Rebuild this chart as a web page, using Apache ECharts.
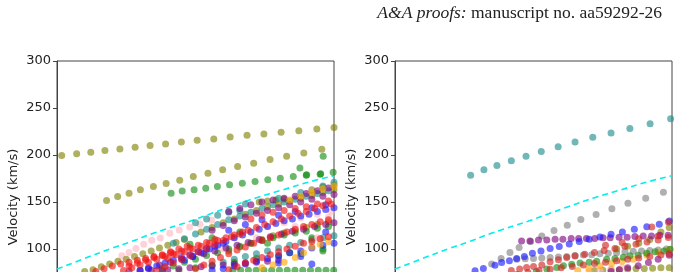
<!DOCTYPE html>
<html>
<head>
<meta charset="utf-8">
<title>Velocity</title>
<script src="https://cdn.jsdelivr.net/npm/echarts@6/dist/echarts.min.js"></script>
<style>
  html, body { margin: 0; padding: 0; background: #fff; }
  #chart { width: 687px; height: 272px; }
</style>
</head>
<body>
<div id="chart"></div>
<script>
// x is a position along each panel (0..100), y is velocity in km/s

// dashed cyan curve, same in both panels
var dashX = [0, 10, 20, 26, 35, 48, 55, 62.5, 72, 81.6, 90, 100];
var dashY = [78.6, 90, 101, 107, 117, 129.5, 137, 145, 154.5, 163, 170.5, 178];

var yTicks = [50, 100, 150, 200, 250, 300];

// ---- left panel tracks ----
var L_oliveTop = [[1.7,199.4],[7.1,201.2],[12.2,202.9],[17.3,204.7],[22.7,206.5],[28.2,208.2],[33.6,210],[39.2,211.8],[44.9,213.9],[50.6,215.6],[56.6,217.1],[62.5,219.2],[68.6,220.9],[74.7,222.4],[80.9,224.1],[87.3,225.9],[93.8,227.7],[100,229.3]];
var L_oliveMid = [[17.9,151.7],[21.9,155.9],[26,159.4],[30.1,163],[34.8,166.5],[39.4,169.7],[44.3,173.2],[49.2,177.1],[54.5,180.6],[59.8,184.2],[65.2,187.7],[71,191.2],[76.9,195.1],[82.9,198.6],[89.1,202.2],[95.6,206]];
var L_greenMid = [[41.2,159.4],[45.2,161.6],[49.5,163],[53.7,164.7],[57.9,166.5],[62.3,168.3],[66.9,170],[71.5,171.8],[76.1,173.6],[80.6,175.3],[85.3,177.1],[90.1,178.9],[95.2,180],[99.7,181.7]];
var L_greenExtra = [[87.7,186.3],[90,178.5],[95,179.5],[96.1,198.6]];
var L_pinkTop = [[23.4,92.7],[26,96.3],[28.5,100.5],[31.3,105.1],[34.2,109.3],[37.3,111.8],[40.7,116.7],[44.1,120.2],[47.9,123.4],[51.6,126.3],[55.8,130.5]];
var L_greenBottom = [[63.5,77.5],[66.3,77.5],[69.1,77.5],[71.9,77.5],[74.7,77.5],[77.5,77.5],[80.3,77.5],[83.1,77.5],[85.9,77.5],[88.7,77.5],[91.5,77.5],[94.3,77.5],[97.1,77.5],[99.9,77.5]];
var L_red1 = [[14,76],[17,79],[20,82],[23,84],[26,86],[29,88],[32,90],[35,92],[38,94],[41,96]];
var L_red2 = [[24,77],[27,80],[30,83],[33,86],[36,89],[39,92],[42,95],[45,98],[48,101],[51,104],[54,107],[57,110]];
var L_red3 = [[36,77],[39,81],[42,85],[45,89],[48,93],[51,97],[54,101],[57,105],[60,109],[63,113],[66,116],[69,120],[72,123],[75,126],[78,129],[81,132],[84,135],[87,138],[90,140],[93,143],[96,146],[99,148]];
var L_red4 = [[50,79],[53,83],[56,87],[59,91],[62,95],[65,99],[68,102],[71,106],[74,109],[77,112],[80,115],[83,118],[86,121],[89,124],[92,126],[95,129],[98,131]];
var L_red5 = [[62,78],[65,81],[68,85],[71,88],[74,91],[77,94],[80,97],[83,100],[86,103],[89,106],[92,108],[95,111],[98,113]];
var L_red6 = [[70,132],[74,136],[78,139],[82,141],[86,143],[90,145],[94,148],[98,151]];
var L_red7 = [[26,82],[29,85],[32,88],[35,91],[38,93],[41,97],[44,100],[47,103]];
var L_red8 = [[40,90],[43,94],[46,97],[49,100],[52,103],[55,106],[58,109],[61,112],[64,115],[67,118]];
var L_blue1 = [[30,77],[33,79],[36,82],[39,85],[42,88],[45,91],[48,94],[51,97],[54,100],[57,103],[60,106]];
var L_blue2 = [[46,88],[49,92],[52,96],[55,100],[58,104],[61,108],[64,112],[67,115],[70,118],[73,121],[76,124],[79,127],[82,130],[85,132],[88,135],[91,137],[94,140],[97,142],[100,144]];
var L_blue3 = [[56,77],[60,79],[64,82],[68,84],[72,87],[76,90],[80,93],[84,96],[88,98],[92,101],[96,104],[100,106]];
var L_blue4 = [[80,85],[88,92],[92,84],[97,118]];
var L_blue5 = [[62,120],[68,126],[74,131],[80,136],[86,140],[92,144],[97,147]];
var L_purple1 = [[33,80],[37,83],[41,86],[45,89],[49,92],[53,95],[57,98],[61,101],[65,104],[69,107],[73,110],[77,113],[81,116],[85,119],[89,121],[93,124],[97,126],[100,128]];
var L_purple2 = [[56,120],[60,125],[64,130],[68,134],[72,138],[76,141],[80,144],[84,147],[88,150],[92,153],[96,156],[100,158]];
var L_purple3 = [[40,78],[44,79],[48,80],[52,81],[56,82],[60,83],[64,84],[68,85],[72,86],[76,87],[80,88]];
var L_purple4 = [[62,140],[66,143],[70,147],[74,150],[78,152],[82,154],[86,156],[90,159],[94,162],[98,165]];
var L_purple5 = [[26,76],[30,77],[34,77.5],[38,76.5]];
var L_teal1 = [[42,106],[46,111],[50,116],[54,121],[58,126],[62,131],[66,135],[70,139],[74,143],[78,147],[82,150],[86,153],[90,156],[94,159],[98,162]];
var L_teal2 = [[60,86],[64,89],[68,92],[72,95],[76,98],[80,101],[84,104],[88,107],[92,110],[96,112],[100,114]];
var L_teal3 = [[68,148],[80,154],[88,160],[96,167],[100,171]];
var L_teal4 = [[50,128],[54,132],[58,136],[62,139],[66,141]];
var L_olive1 = [[10,76],[13,78],[16,81],[19,84],[22,87],[25,89],[28,92],[31,95],[34,98],[37,101],[40,104],[43,107],[46,110]];
var L_olive2 = [[52,118],[56,123],[60,128],[64,132],[68,137],[72,141],[76,145],[80,148],[84,151],[88,154],[92,157],[96,160],[100,163]];
var L_olive3 = [[62,98],[66,102],[70,106],[74,110],[78,114],[82,117],[86,120],[90,123],[94,126],[98,129]];
var L_olive4 = [[73,150],[76,151],[79,152],[82,153],[92,163],[96,166],[100,168]];
var L_green1 = [[38,79],[42,82],[46,86],[50,89],[54,93],[58,96],[62,100],[66,103],[70,106],[74,109],[78,112],[82,115],[86,117],[90,119],[94,122],[98,124]];
var L_green2 = [[48,105],[56,112],[66,118],[76,106],[84,96],[92,112],[96,100]];
var L_green3 = [[44,77],[50,80],[56,83],[64,86],[72,90],[80,92],[88,95],[96,98]];
var L_orange1 = [[74,80],[78,83],[82,86],[86,91],[89,96],[92,102],[95,105],[98,108]];
var L_orange2 = [[84,152],[88,156],[92,160],[96,164],[100,167]];
var L_pink2 = [[64,112],[70,118],[76,124],[82,128],[88,133],[94,137],[99,140]];
var L_pink3 = [[60,100],[72,112],[86,124],[94,112],[98,134]];

// ---- right panel tracks ----
var R_tealTop = [[27.3,178.5],[32.1,184.2],[36.8,188.8],[42,193.8],[47.3,198.6],[52.8,203.6],[58.9,208.9],[65,213.9],[71.4,218.8],[78,223.4],[84.8,228.3],[92.1,233.3],[99.5,238.6]];
var R_grayTop = [[34.9,84],[38.3,90],[41.5,96.3],[44.8,101.6],[49,108],[53,113.9],[57.4,119.6],[62.2,125.2],[67.1,131.3],[72.6,136.6],[78.3,142.9],[84.1,148.8],[90.5,154.1],[96.9,160.5]];
var R_purple1 = [[45.7,108.6],[48.7,108.6],[51.8,109.6],[54.8,109.6],[57.8,110.4],[60.6,110.4],[63.6,111.1],[66.3,111.1],[69.1,111.1],[72.1,111.1],[75.1,112],[77.7,112],[80.9,112.4],[83.8,112.4],[86.6,113.2],[89.6,113.9],[92.6,113.9],[95.6,114.6],[98.6,114.6]];
var R_blue1 = [[28.9,76.8],[31.9,79.3],[36.1,82.8],[38.5,85.7],[41.3,87.4],[43.9,90],[46.7,92.1],[49.6,95.6],[52.7,98],[56,100.5],[59.3,102.6],[62.9,105.2],[66.5,107.9],[70.1,110.4],[74,112.8],[78,115.7],[82.1,118.1],[86.4,121],[90.9,123.8],[95.4,126.3],[99,129.8]];
var R_gray2 = [[44,89],[47,89.5],[50,90],[53,90.5],[56,91],[59,91.5],[62,92],[65,93],[68,93.5],[71,94],[74,95],[77,95.5],[80,96],[83,97],[86,97.5],[89,98],[92,98.5],[95,99],[98,100]];
var R_red1 = [[42,77],[45,78.6],[47.5,80.4],[50,81.3],[53,83],[56,86.4],[59,88.5],[62,91],[65,92.5],[68.5,94.5],[72,96.3],[75.5,98.5],[79.4,100.5],[83,103],[87,105],[91,107.5],[95,109.6],[98.7,112.2]];
var R_red2 = [[44,73],[48,75],[52,77],[56,78.5],[60,80],[64,81.5],[68,83],[72,84.5],[76,86],[80,87.5],[84,89],[88,90.5],[92,92],[96,93.5],[99,95]];
var R_red3 = [[76,104],[82,107],[88,111],[92.7,123.4],[95,113.9],[98.7,128.7]];
var R_green1 = [[51,76],[54.8,78.6],[58.4,80.4],[60.8,82.1],[63.8,83.9],[66.8,85],[70.1,86],[72.8,87.1],[76.4,89.2],[79.4,89.9],[82.4,91.3],[84.8,92.7],[87.8,93.4],[90.9,95.6],[93.9,97],[97.1,98],[99.3,99.8]];
var R_purple2 = [[78,76],[81,78],[84,80],[87.8,82.1],[91.5,85.7],[95,89.2],[99,93.4]];
var R_orange1 = [[66,77],[70,79],[74,82.1],[78.2,84.6],[82,87],[86,89.2],[90.9,93.4],[95,96.5],[99,99.5]];
var R_pink1 = [[70,76],[74,77.5],[78,79],[82,80.5]];
var R_olive1 = [[72,77],[75,77.5],[78,78],[81,78],[84,78.5],[87,79],[90,79],[93,79.5],[96,80],[99,80]];
var R_olive2 = [[80,100],[84,103],[88,106],[92,110],[96,118],[99,123]];

var colors = {
  red: '#f01010', dred: '#d21f1f', blue: '#1515ff', purple: '#800080', teal: '#1a8a8a',
  olive: '#7f7f00', green: '#108a10', orange: '#ffa500', pink: '#ffb6c1', gray: '#7f7f7f'
};

var leftTracks = [
  [L_oliveTop, 'olive'], [L_oliveMid, 'olive'], [L_greenMid, 'green'], [L_greenExtra, 'green'],
  [L_pinkTop, 'pink'], [L_greenBottom, 'green'],
  [L_olive1, 'olive'], [L_olive2, 'olive'], [L_olive3, 'olive'], [L_olive4, 'olive'],
  [L_teal1, 'teal'], [L_teal2, 'teal'], [L_teal3, 'teal'], [L_teal4, 'teal'],
  [L_green1, 'green'], [L_green2, 'green'], [L_green3, 'green'], [L_pink2, 'pink'], [L_pink3, 'pink'],
  [L_purple1, 'purple'], [L_purple2, 'purple'], [L_purple3, 'purple'], [L_purple4, 'purple'], [L_purple5, 'purple'],
  [L_blue1, 'blue'], [L_blue2, 'blue'], [L_blue3, 'blue'], [L_blue4, 'blue'], [L_blue5, 'blue'],
  [L_orange1, 'orange'], [L_orange2, 'orange'],
  [L_red1, 'red'], [L_red2, 'red'], [L_red3, 'red'], [L_red4, 'red'], [L_red5, 'red'],
  [L_red6, 'red'], [L_red7, 'red'], [L_red8, 'red']
];
var rightTracks = [
  [R_tealTop, 'teal'], [R_grayTop, 'gray'], [R_gray2, 'gray'], [R_olive1, 'olive'], [R_olive2, 'olive'],
  [R_pink1, 'pink'], [R_orange1, 'orange'], [R_green1, 'green'],
  [R_purple1, 'purple'], [R_purple2, 'purple'], [R_blue1, 'blue'],
  [R_red1, 'dred'], [R_red2, 'dred'], [R_red3, 'dred']
];

var font = 'DejaVu Sans';
// the plots run below the bottom edge of the page, as in the cropped figure
var grids = [
  { left: 57, width: 277, top: 61, height: 235 },
  { left: 395, width: 277, top: 61, height: 235 }
];

var series = [];
function addTracks(list, idx) {
  list.forEach(function (t) {
    series.push({
      type: 'scatter', xAxisIndex: idx, yAxisIndex: idx,
      data: t[0], symbolSize: 7, silent: true,
      itemStyle: { color: colors[t[1]], opacity: 0.62 }
    });
  });
}
[0, 1].forEach(function (idx) {
  series.push({
    type: 'line', xAxisIndex: idx, yAxisIndex: idx, smooth: true, symbol: 'none', silent: true, z: 1,
    data: dashX.map(function (x, i) { return [x, dashY[i]]; }),
    lineStyle: { color: '#00eeee', width: 1.6, type: [6, 4] }
  });
});
addTracks(leftTracks, 0);
addTracks(rightTracks, 1);

var chart = echarts.init(document.getElementById('chart'));
chart.setOption({
  animation: false,
  backgroundColor: '#fff',
  grid: grids.map(function (g) {
    return Object.assign({
      show: true, borderColor: '#444', borderWidth: 1, backgroundColor: 'transparent',
      containLabel: false, outerBoundsMode: 'none'
    }, g);
  }),
  xAxis: [0, 1].map(function (i) {
    return { gridIndex: i, type: 'value', min: 0, max: 100, show: false };
  }),
  yAxis: [0, 1].map(function (i) {
    return {
      gridIndex: i, type: 'value', min: yTicks[0], max: yTicks[yTicks.length - 1], interval: 50,
      axisLine: { show: true, lineStyle: { color: '#444', width: 1 } },
      axisTick: { show: true, length: 4, lineStyle: { color: '#444' } },
      splitLine: { show: false },
      axisLabel: { fontFamily: font, fontSize: 13, color: '#222', margin: 6 }
    };
  }),
  graphic: [
    { type: 'text', x: 14, y: 197, rotation: Math.PI / 2,
      style: { text: 'Velocity (km/s)', font: '13px "DejaVu Sans"', fill: '#222', align: 'center', verticalAlign: 'middle' } },
    { type: 'text', x: 352, y: 197, rotation: Math.PI / 2,
      style: { text: 'Velocity (km/s)', font: '13px "DejaVu Sans"', fill: '#222', align: 'center', verticalAlign: 'middle' } },
    { type: 'text', x: 662, y: 13,
      style: {
        text: '{i|A&A proofs:} manuscript no. aa59292-26',
        font: '17.5px "Liberation Serif"', fill: '#222', align: 'right', verticalAlign: 'middle',
        rich: { i: { fontStyle: 'italic', fontFamily: 'Liberation Serif', fontSize: 17.5, fill: '#222' } }
      } }
  ],
  series: series
});
</script>
</body>
</html>
